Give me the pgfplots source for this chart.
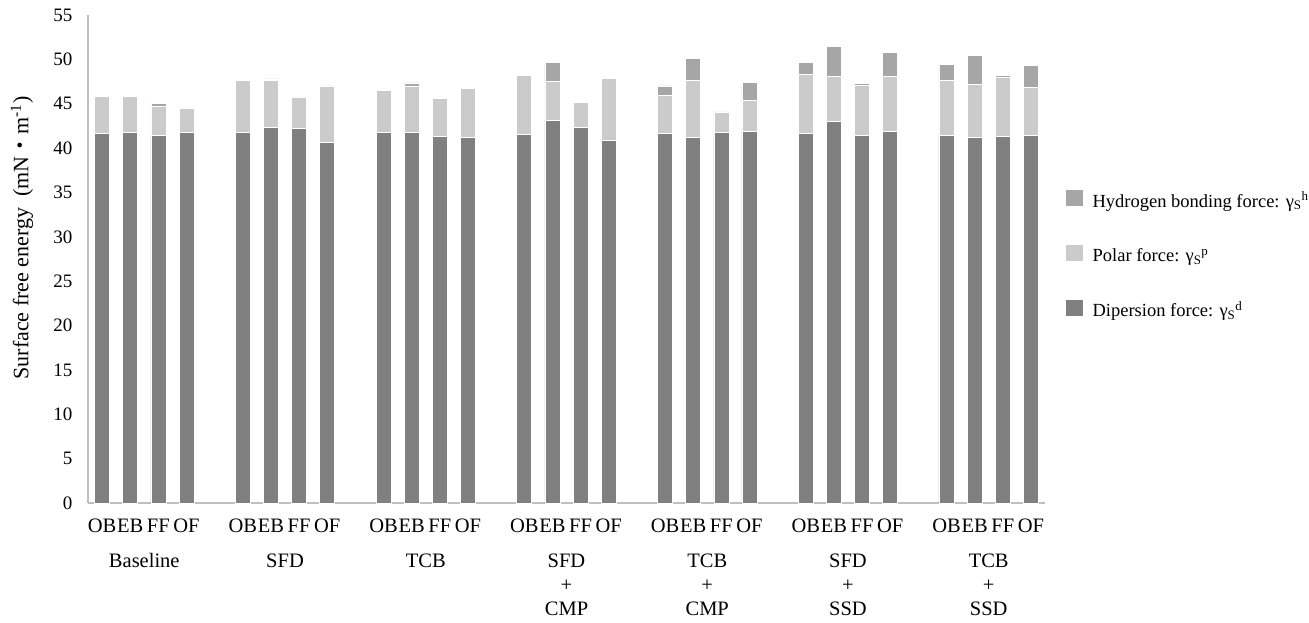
\documentclass[border=0pt]{standalone}
\usepackage{pgfplots}
\pgfplotsset{compat=1.18}
\usepackage{pgfplotstable}
\usepackage{fontspec}
\setmainfont{Liberation Serif}
\newfontfamily\cjk{Noto Sans CJK JP}
\definecolor{disp}{HTML}{808080}
\definecolor{polar}{HTML}{CBCBCB}
\definecolor{hyd}{HTML}{A6A6A6}
\definecolor{axgray}{HTML}{BFBFBF}

\pgfplotstableread{
x  d     p    h
0  41.67 4.20 0
1  41.73 4.14 0
2  41.47 3.27 0.34
3  41.73 2.79 0
5  41.73 5.94 0
6  42.30 5.29 0.20
7  42.18 3.58 0
8  40.65 6.35 0
10 41.73 4.74 0.15
11 41.73 5.27 0.34
12 41.28 4.29 0
13 41.17 5.60 0
15 41.55 6.61 0
16 43.16 4.32 2.14
17 42.34 2.85 0
18 40.91 6.95 0.15
20 41.67 4.31 1.02
21 41.17 6.42 2.53
22 41.73 2.34 0
23 41.85 3.49 2.07
25 41.67 6.68 1.27
26 42.97 5.15 3.38
27 41.47 5.56 0.27
28 41.85 6.27 2.71
30 41.44 6.23 1.77
31 41.17 6.05 3.19
32 41.36 6.57 0.27
33 41.44 5.44 2.45
}\datatable

\begin{document}
\begin{tikzpicture}
\begin{axis}[
  scale only axis,
  width=957pt, height=488pt,
  ymin=0, ymax=55, xmin=-0.5, xmax=33.5,
  ybar stacked, bar width=15pt,
  axis lines*=left,
  axis line style={-, draw=axgray, line width=1.2pt},
  major tick length=0pt,
  ytick={0,5,...,55},
  /pgf/number format/assume math mode=true,
  yticklabel style={font=\fontsize{19}{21}\selectfont, xshift=-12pt},
  xtick={0,1,2,3,5,6,7,8,10,11,12,13,15,16,17,18,20,21,22,23,25,26,27,28,30,31,32,33},
  xticklabels={OB,EB,FF,OF,OB,EB,FF,OF,OB,EB,FF,OF,OB,EB,FF,OF,OB,EB,FF,OF,OB,EB,FF,OF,OB,EB,FF,OF},
  xticklabel style={font=\fontsize{20.5}{24}\selectfont, yshift=-12.2pt},
  extra x ticks={1.5,6.5,11.5,16.5,21.5,26.5,31.5},
  extra x tick labels={Baseline,SFD,TCB,{SFD\\+\\CMP},{TCB\\+\\CMP},{SFD\\+\\SSD},{TCB\\+\\SSD}},
  extra x tick style={xticklabel style={yshift=-34.7pt, align=center}},
  ylabel={Surface free energy\hspace{0.5em}(mN{\cjk ・}m\textsuperscript{-1})},
  ylabel style={font=\fontsize{22}{25}\selectfont, at={(axis description cs:-0.069,0.543)}, anchor=center},
  reverse legend,
  legend style={draw=none, fill=none, at={(1.0209,0.5082)}, anchor=west,
    inner sep=0pt, outer sep=0pt, row sep=33pt, column sep=9pt,
    font=\fontsize{18.5}{20}\selectfont,
    nodes={inner sep=0pt, text height=13pt, text depth=4pt}},
  legend cell align=left,
  legend image code/.code={\fill[#1] (0pt,-4pt) rectangle (18pt,13pt);},
]
\addplot[fill=disp, draw=white, line width=0.6pt] table[x=x,y=d]{\datatable};
\addlegendentry{Dipersion force: γ\textsubscript{S}\textsuperscript{d}}
\addplot[fill=polar, draw=white, line width=0.6pt] table[x=x,y=p]{\datatable};
\addlegendentry{Polar force: γ\textsubscript{S}\textsuperscript{p}}
\addplot[fill=hyd, draw=white, line width=0.6pt] table[x=x,y=h]{\datatable};
\addlegendentry{Hydrogen bonding force: γ\textsubscript{S}\textsuperscript{h}}
\end{axis}
\pgfresetboundingbox
\path (-88pt,-119pt) rectangle (1221pt,503pt);
\end{tikzpicture}
\end{document}
